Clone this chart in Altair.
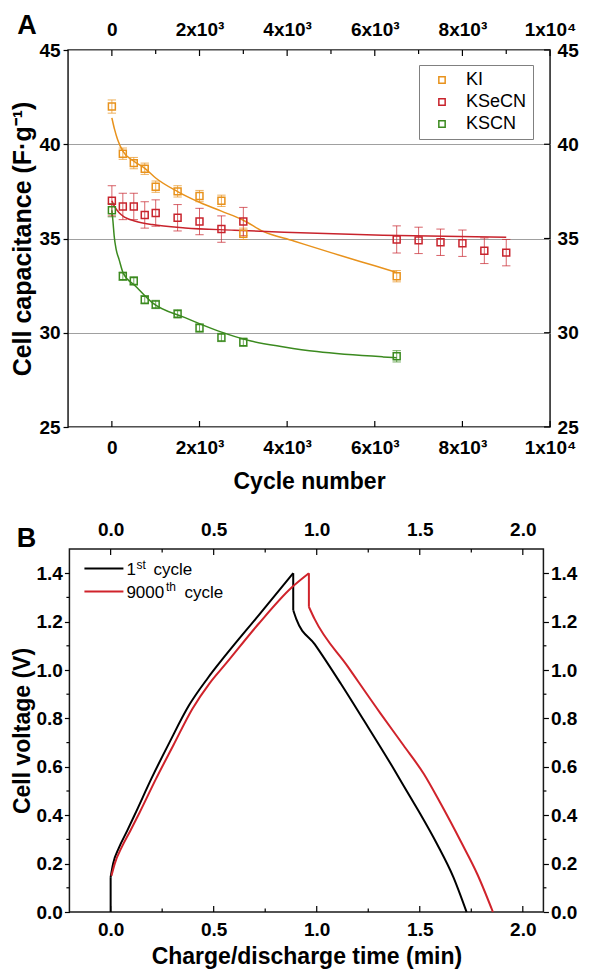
import altair as alt
import pandas as pd

FONT = "Liberation Sans"

# ---------------- Panel A data ----------------
series_names = ["KI", "KSeCN", "KSCN"]
series_colors = ["#E8921C", "#C8232C", "#3B8A1F"]

ki_cycle = [0, 250, 500, 750, 1000, 1500, 2000, 2500, 3000, 6500]
ki_cap = [42.0, 39.5, 39.0, 38.7, 37.75, 37.5, 37.25, 37.0, 35.25, 33.0]
ki_err = [0.35, 0.3, 0.3, 0.3, 0.3, 0.3, 0.3, 0.3, 0.3, 0.3]

ksecn_cycle = [0, 250, 500, 750, 1000, 1500, 2000, 2500, 3000, 6500, 7000, 7500, 8000, 8500, 9000]
ksecn_cap = [37.0, 36.7, 36.7, 36.25, 36.35, 36.1, 35.9, 35.5, 35.9, 34.95, 34.9, 34.8, 34.75, 34.35, 34.25]
ksecn_err = [0.8, 0.7, 0.7, 0.7, 0.7, 0.7, 0.7, 0.7, 0.75, 0.72, 0.7, 0.7, 0.7, 0.68, 0.7]

kscn_cycle = [0, 250, 500, 750, 1000, 1500, 2000, 2500, 3000, 6500]
kscn_cap = [36.5, 33.0, 32.75, 31.75, 31.5, 31.0, 30.25, 29.75, 29.5, 28.75]
kscn_err = [0.35, 0.22, 0.22, 0.22, 0.22, 0.22, 0.22, 0.22, 0.22, 0.3]

# fitted curves
ki_fit_cycle = [0, 60, 130, 250, 500, 760, 1000, 1500, 2000, 2500, 3000, 3440, 4150, 5000, 6000, 6500]
ki_fit_cap = [41.4, 40.8, 40.25, 39.63, 39.1, 38.71, 38.21, 37.49, 36.92, 36.45, 35.97, 35.39, 34.87, 34.25, 33.55, 33.2]

ksecn_fit_cycle = [0, 60, 165, 300, 540, 920, 1670, 2800, 3930, 6185, 9000]
ksecn_fit_cap = [37.0, 36.7, 36.36, 36.12, 35.92, 35.74, 35.56, 35.44, 35.33, 35.17, 35.07]

kscn_fit_cycle = [0, 25, 53, 100, 165, 256, 542, 920, 1670, 2420, 3175, 3930, 4680, 6185, 6500]
kscn_fit_cap = [36.5, 35.9, 35.12, 34.4, 33.88, 33.18, 32.47, 31.6, 30.8, 30.1, 29.56, 29.25, 29.0, 28.72, 28.68]

cap_ticks = [25, 30, 35, 40, 45]
cycle_major = [0, 2000, 4000, 6000, 8000, 10000]
cycle_minor = [1000, 3000, 5000, 7000, 9000]

# ---------------- Panel B data ----------------
first_jump_t = [0, 0]
first_jump_v = [0, 0.144]
first_charge_t = [0, 0.012, 0.04, 0.08, 0.124, 0.2, 0.285, 0.381, 0.47, 0.557, 0.717, 0.886]
first_charge_v = [0.144, 0.2, 0.265, 0.335, 0.415, 0.555, 0.70, 0.855, 0.965, 1.06, 1.225, 1.4]
first_drop_t = [0.886, 0.886]
first_drop_v = [1.4, 1.247]
first_dis_t = [0.886, 0.901, 0.99, 1.118, 1.23, 1.374, 1.454, 1.502, 1.583, 1.663, 1.727]
first_dis_v = [1.247, 1.21, 1.107, 0.942, 0.79, 0.591, 0.475, 0.406, 0.282, 0.144, 0]

last_charge_t = [0.004, 0.02, 0.055, 0.095, 0.14, 0.22, 0.305, 0.397, 0.48, 0.557, 0.717, 0.877, 0.962]
last_charge_v = [0.15, 0.2, 0.27, 0.335, 0.41, 0.55, 0.69, 0.84, 0.945, 1.024, 1.19, 1.34, 1.4]
last_drop_t = [0.962, 0.962]
last_drop_v = [1.4, 1.261]
last_dis_t = [0.962, 0.99, 1.15, 1.31, 1.42, 1.52, 1.6, 1.7, 1.78, 1.855]
last_dis_v = [1.261, 1.21, 1.015, 0.82, 0.69, 0.57, 0.45, 0.29, 0.155, 0]

volt_major = [0.0, 0.2, 0.4, 0.6, 0.8, 1.0, 1.2, 1.4]
volt_minor = [0.1, 0.3, 0.5, 0.7, 0.9, 1.1, 1.3]
time_major = [0.0, 0.5, 1.0, 1.5, 2.0]
time_minor = [0.25, 0.75, 1.25, 1.75]

# ---------------- frames ----------------
rows = []
for name, cyc, cap, err in [("KI", ki_cycle, ki_cap, ki_err),
                            ("KSeCN", ksecn_cycle, ksecn_cap, ksecn_err),
                            ("KSCN", kscn_cycle, kscn_cap, kscn_err)]:
    for c, v, e in zip(cyc, cap, err):
        rows.append({"series": name, "cycle": c, "cap": v, "err": e})
ptsA = pd.DataFrame(rows)

rows = []
for name, cyc, cap in [("KI", ki_fit_cycle, ki_fit_cap),
                       ("KSeCN", ksecn_fit_cycle, ksecn_fit_cap),
                       ("KSCN", kscn_fit_cycle, kscn_fit_cap)]:
    for c, v in zip(cyc, cap):
        rows.append({"series": name, "cycle": c, "cap": v})
fitA = pd.DataFrame(rows)

rows = []
segs = [("first", "f0", first_jump_t, first_jump_v),
        ("first", "f1", first_charge_t, first_charge_v),
        ("first", "f2", first_drop_t, first_drop_v),
        ("first", "f3", first_dis_t, first_dis_v),
        ("last", "l1", last_charge_t, last_charge_v),
        ("last", "l2", last_drop_t, last_drop_v),
        ("last", "l3", last_dis_t, last_dis_v)]
for name, seg, ts, vs in segs:
    for i, (t, v) in enumerate(zip(ts, vs)):
        rows.append({"cycle": name, "seg": seg, "t": t, "v": v, "i": i})
curB = pd.DataFrame(rows)

WA, HA = 482, 377
WB, HB = 474, 363

xA = alt.Scale(domain=[-1000, 10000], nice=False, zero=False)
yA = alt.Scale(domain=[25, 45], nice=False, zero=False)
colA = alt.Scale(domain=series_names, range=series_colors)

sup_expr = ("datum.value == 0 ? '0' : datum.value == 10000 ? '1x10\u2074' : "
            "format(datum.value / 1000, 'd') + 'x10\u00b3'")

axis_bl = alt.Chart(ptsA).mark_point(opacity=0).encode(
    x=alt.X("cycle:Q", scale=xA, axis=alt.Axis(
        orient="bottom", values=cycle_major, labelExpr=sup_expr, ticks=False,
        domain=False, grid=False, title="Cycle number", labelPadding=11,
        titlePadding=13, labelFlush=False)),
    y=alt.Y("cap:Q", scale=yA, axis=alt.Axis(
        orient="left", values=cap_ticks, ticks=True, tickSize=5, grid=True,
        gridColor="#a0a0a0", gridWidth=1.2, domain=False,
        title="Cell capacitance (F\u00b7g\u207b\u00b9)", titleFontSize=25,
        labelPadding=3, titlePadding=3, labelFlush=False)),
)
axis_tr = alt.Chart(ptsA).mark_point(opacity=0).encode(
    x=alt.X("cycle:Q", scale=xA, axis=alt.Axis(
        orient="top", values=cycle_major, labelExpr=sup_expr, ticks=False,
        domain=False, grid=False, title=None, labelPadding=11, labelFlush=False)),
    y=alt.Y("cap:Q", scale=yA, axis=alt.Axis(
        orient="right", values=cap_ticks, ticks=False, grid=False, domain=False,
        title=None, labelPadding=7, labelFlush=False)),
)

fit_lines = alt.Chart(fitA).mark_line(strokeWidth=1.5, interpolate="monotone").encode(
    x=alt.X("cycle:Q", scale=xA, axis=None),
    y=alt.Y("cap:Q", scale=yA, axis=None),
    stroke=alt.Stroke("series:N", scale=colA, legend=None),
    detail="series:N",
)

err_base = alt.Chart(ptsA).transform_calculate(
    lo="datum.cap - datum.err", hi="datum.cap + datum.err")
err_rules = err_base.mark_rule(strokeWidth=1, opacity=0.7).encode(
    x=alt.X("cycle:Q", scale=xA, axis=None),
    y=alt.Y("lo:Q", scale=yA, axis=None),
    y2="hi:Q",
    stroke=alt.Stroke("series:N", scale=colA, legend=None),
)
caps_hi = err_base.mark_point(shape="stroke", size=70, strokeWidth=1, opacity=0.7).encode(
    x=alt.X("cycle:Q", scale=xA, axis=None),
    y=alt.Y("hi:Q", scale=yA, axis=None),
    stroke=alt.Stroke("series:N", scale=colA, legend=None),
)
caps_lo = err_base.mark_point(shape="stroke", size=70, strokeWidth=1, opacity=0.7).encode(
    x=alt.X("cycle:Q", scale=xA, axis=None),
    y=alt.Y("lo:Q", scale=yA, axis=None),
    stroke=alt.Stroke("series:N", scale=colA, legend=None),
)

pointsA = alt.Chart(ptsA).mark_point(shape="square", filled=False, size=48,
                                     strokeWidth=1.5, opacity=1).encode(
    x=alt.X("cycle:Q", scale=xA, axis=None),
    y=alt.Y("cap:Q", scale=yA, axis=None),
    color=alt.Color("series:N", scale=colA, legend=alt.Legend(
        title=None, orient="none", legendX=351, legendY=15, direction="vertical",
        strokeColor="#808080", fillColor="white", padding=6, symbolOffset=8,
        symbolType="square", symbolSize=40, symbolStrokeWidth=1.5,
        symbolFillColor="transparent", labelFont=FONT, labelFontSize=18,
        labelFontWeight="normal", labelOffset=15, rowPadding=4,
        labelColor="black")),
)

tickA_top_major = alt.Chart(pd.DataFrame({"c": cycle_major})).mark_rule(color="black", strokeWidth=1.2).encode(
    x=alt.X("c:Q", scale=xA, axis=None), y=alt.value(0), y2=alt.value(6))
tickA_top_minor = alt.Chart(pd.DataFrame({"c": cycle_minor})).mark_rule(color="black", strokeWidth=1.2).encode(
    x=alt.X("c:Q", scale=xA, axis=None), y=alt.value(0), y2=alt.value(4))
tickA_bot = alt.Chart(pd.DataFrame({"c": cycle_major})).mark_rule(color="black", strokeWidth=1.2).encode(
    x=alt.X("c:Q", scale=xA, axis=None), y=alt.value(HA), y2=alt.value(HA - 6))
tickA_right = alt.Chart(pd.DataFrame({"c": cap_ticks})).mark_rule(color="black", strokeWidth=1.2).encode(
    y=alt.Y("c:Q", scale=yA, axis=None), x=alt.value(WA), x2=alt.value(WA - 6))

letterA = alt.Chart(alt.Data(values=[{"t": "A"}])).mark_text(
    font=FONT, fontWeight="bold", fontSize=27, align="center", baseline="middle",
    color="black").encode(x=alt.value(-41), y=alt.value(-24), text="t:N")

panelA = alt.layer(
    axis_bl, axis_tr, fit_lines, err_rules, caps_hi, caps_lo, pointsA,
    tickA_top_major, tickA_top_minor, tickA_bot, tickA_right, letterA,
).resolve_axis(x="independent", y="independent").properties(width=WA, height=HA)

# ---------------- Panel B ----------------
xB = alt.Scale(domain=[-0.2, 2.1], nice=False, zero=False)
yB = alt.Scale(domain=[0, 1.5], nice=False, zero=False)
colB = alt.Scale(domain=["first", "last"], range=["#000000", "#D0232B"])

axisB_bl = alt.Chart(curB).mark_point(opacity=0).encode(
    x=alt.X("t:Q", scale=xB, axis=alt.Axis(
        orient="bottom", values=time_major, format=".1f", ticks=False, domain=False,
        grid=False, title="Charge/discharge time (min)", labelPadding=8,
        titlePadding=6, labelFlush=False)),
    y=alt.Y("v:Q", scale=yB, axis=alt.Axis(
        orient="left", values=volt_major, format=".1f", ticks=True, tickSize=5,
        grid=False, domain=False, title="Cell voltage (V)", labelPadding=2,
        titlePadding=2, labelFlush=False)),
)
axisB_tr = alt.Chart(curB).mark_point(opacity=0).encode(
    x=alt.X("t:Q", scale=xB, axis=alt.Axis(
        orient="top", values=time_major, format=".1f", ticks=False, domain=False,
        grid=False, title=None, labelPadding=10, labelFlush=False)),
    y=alt.Y("v:Q", scale=yB, axis=alt.Axis(
        orient="right", values=volt_major, format=".1f", ticks=True, tickSize=5,
        grid=False, domain=False, title=None, labelPadding=2, labelFlush=False)),
)

linesB = alt.Chart(curB).mark_line(strokeWidth=2, interpolate="monotone").encode(
    x=alt.X("t:Q", scale=xB, axis=None),
    y=alt.Y("v:Q", scale=yB, axis=None),
    stroke=alt.Stroke("cycle:N", scale=colB, legend=None),
    detail="seg:N",
    order="i:Q",
)

def rule_df(vals):
    return pd.DataFrame({"c": vals})

tB = [
    alt.Chart(rule_df(time_major)).mark_rule(color="black", strokeWidth=1.2).encode(
        x=alt.X("c:Q", scale=xB, axis=None), y=alt.value(0), y2=alt.value(6)),
    alt.Chart(rule_df(time_minor)).mark_rule(color="black", strokeWidth=1.2).encode(
        x=alt.X("c:Q", scale=xB, axis=None), y=alt.value(0), y2=alt.value(3.5)),
    alt.Chart(rule_df(time_major)).mark_rule(color="black", strokeWidth=1.2).encode(
        x=alt.X("c:Q", scale=xB, axis=None), y=alt.value(HB), y2=alt.value(HB - 6)),
    alt.Chart(rule_df(time_minor)).mark_rule(color="black", strokeWidth=1.2).encode(
        x=alt.X("c:Q", scale=xB, axis=None), y=alt.value(HB), y2=alt.value(HB - 3.5)),
    alt.Chart(rule_df(volt_minor)).mark_rule(color="black", strokeWidth=1.2).encode(
        y=alt.Y("c:Q", scale=yB, axis=None), x=alt.value(0), x2=alt.value(-3)),
    alt.Chart(rule_df(volt_minor)).mark_rule(color="black", strokeWidth=1.2).encode(
        y=alt.Y("c:Q", scale=yB, axis=None), x=alt.value(WB), x2=alt.value(WB + 3)),
]

one = alt.Data(values=[{"k": 1}])

def txt(s, x, y, size, weight="normal", align="left", baseline="alphabetic"):
    return alt.Chart(one).mark_text(
        text=s, font=FONT, fontSize=size, fontWeight=weight, align=align,
        baseline=baseline, color="black").encode(x=alt.value(x), y=alt.value(y))

legB = [
    alt.Chart(one).mark_rule(color="black", strokeWidth=2.2).encode(
        x=alt.value(15), x2=alt.value(54), y=alt.value(19.5)),
    alt.Chart(one).mark_rule(color="#D0232B", strokeWidth=2.2).encode(
        x=alt.value(15), x2=alt.value(54), y=alt.value(42.5)),
    txt("1", 57, 26, 17),
    txt("st", 67, 19.5, 12),
    txt("cycle", 84, 26, 17),
    txt("9000", 57, 48.5, 17),
    txt("th", 96.5, 42, 12),
    txt("cycle", 115, 48.5, 17),
    txt("B", -43, -10, 27, weight="bold", align="center", baseline="middle"),
]

panelB = alt.layer(
    axisB_bl, axisB_tr, linesB, *tB, *legB,
).resolve_axis(x="independent", y="independent").properties(width=WB, height=HB)

chart = alt.vconcat(panelA, panelB, spacing=25, center=True).resolve_scale(
    stroke="independent"
).properties(
    padding={"left": 2, "top": 3, "right": 0, "bottom": 0}
).configure_view(
    stroke="#1a1a1a", strokeWidth=1.5
).configure_axis(
    labelFont=FONT, labelFontWeight="bold", labelFontSize=19, labelColor="black",
    titleFont=FONT, titleFontWeight="bold", titleFontSize=23, titleColor="black",
    tickColor="black", tickWidth=1.2,
)

chart.save("out.html", embed_options={"renderer": "svg", "actions": False})
